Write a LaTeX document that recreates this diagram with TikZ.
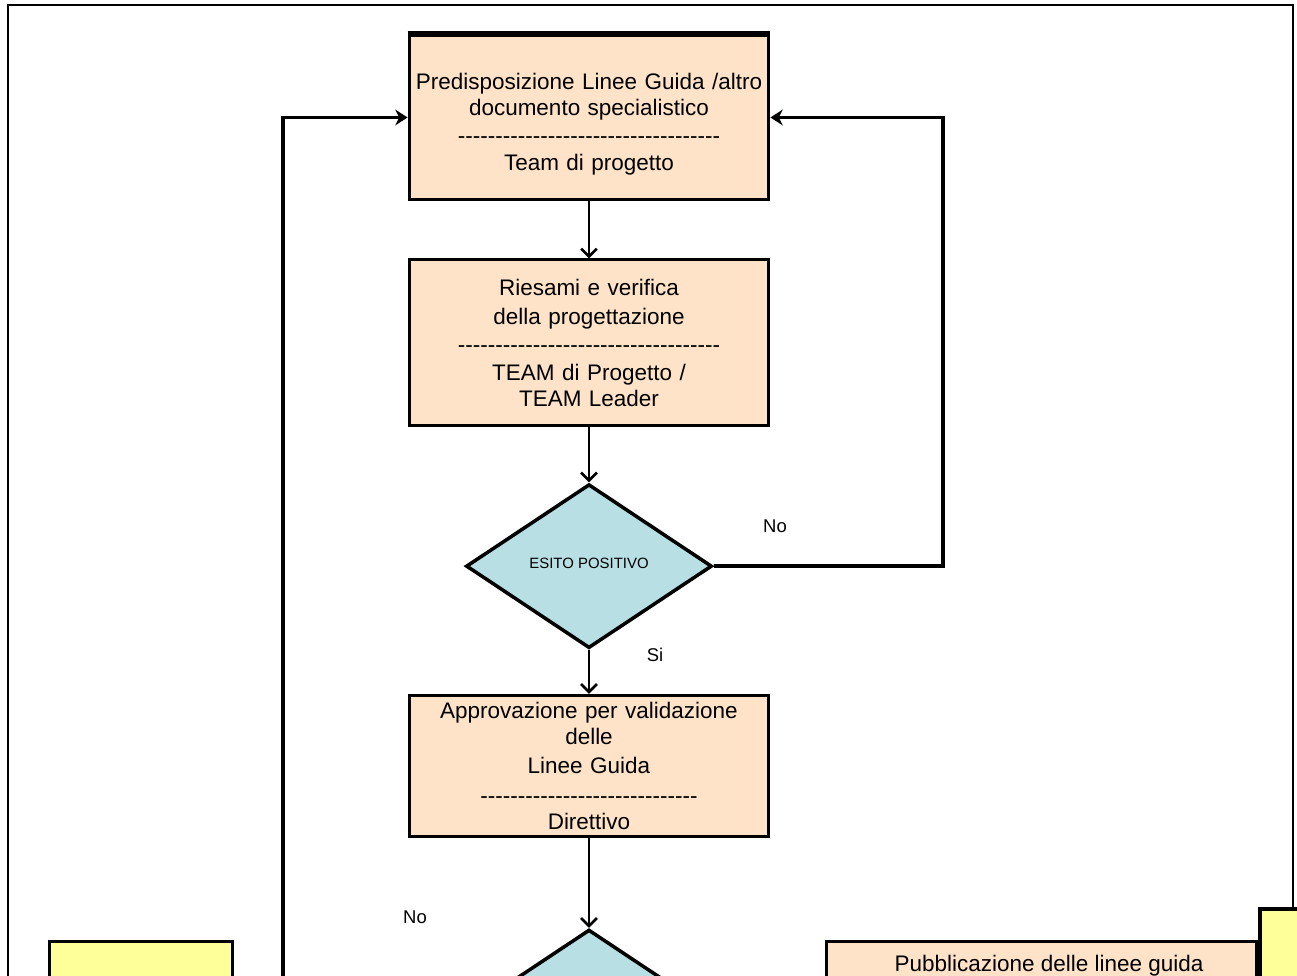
\documentclass[tikz,border=0pt]{standalone}
\usepackage{fontspec}
\newfontfamily\lsans{Liberation Sans}
\usepackage{xcolor}
\usetikzlibrary{arrows.meta,calc,positioning,shapes.geometric}
\definecolor{peach}{RGB}{255,227,200}
\definecolor{paleblue}{RGB}{184,223,227}
\definecolor{paleyellow}{RGB}{255,255,153}
\newcommand\hyph[1]{\foreach\k in {1,...,#1}{-}}

\begin{document}
\begin{tikzpicture}[x=0.02cm,y=-0.02cm,
  box/.style={draw,line width=1.7pt,fill=#1,align=center,inner sep=2pt,
    font=\lsans\fontsize{12.8}{14.8}\selectfont,minimum width=7.2cm,text width=7cm},
  dia/.style={draw,diamond,line width=2pt,fill=paleblue,inner sep=0pt,
    minimum width=4.92cm,minimum height=3.28cm,font=\lsans\fontsize{8.5}{10}\selectfont},
  lbl/.style={font=\lsans\fontsize{10.5}{12}\selectfont},
  arr/.style={-{Straight Barb[length=4.5pt,width=9pt]},line width=1.5pt},
  back/.style={-{Stealth[length=7pt,width=9pt]},line width=#1}]
  \useasboundingbox (0,0) rectangle (1297,976);
  \clip (0,0) rectangle (1297,976);
  % page frame
  \draw[line width=0.8pt] (8,1000) |- (1293,5) -- (1293,1000);
  \node[box=peach,minimum height=3.3cm] (A) at (589,117.5)
    {\rule{0pt}{17pt}Predisposizione Linee Guida /altro\\documento specialistico\\[1pt]\hyph{35}\\[1pt]Team di progetto};
  \draw[line width=3.4pt] (A.north west) -- (A.north east);
  \node[box=peach,minimum height=3.32cm,below=1.14cm of A] (B)
    {Riesami e verifica\\[2pt]della progettazione\\[1pt]\hyph{35}\\[1pt]TEAM di Progetto /\\TEAM Leader};
  \node[dia,below=1.10cm of B] (D) {\raisebox{0.12cm}{ESITO POSITIVO}};
  \node[box=peach,minimum height=2.82cm,below=0.88cm of D] (C)
    {Approvazione per validazione\\delle\\[2pt]Linee Guida\\[2pt]\hyph{29}\\Direttivo};
  \node[dia,below=1.80cm of C] (E) {};
  % cut boxes at the bottom
  \node[draw,line width=1.7pt,fill=paleyellow,anchor=north,minimum width=3.68cm,minimum height=3cm] (Y1) at (141,940) {};
  \node[draw,line width=1.7pt,fill=peach,anchor=north,minimum width=8.62cm,minimum height=3cm] (P) at (1041.5,940) {};
  \node[font=\lsans\fontsize{12.8}{14.8}\selectfont] (Ptxt) at (1049,966) {Pubblicazione delle linee guida};
  \node[draw,line width=2.4pt,fill=paleyellow,anchor=north west,minimum width=2cm,minimum height=3cm] (Y2) at (1258,907) {};
  % connectors
  \draw[arr] (A) -- (B);
  \draw[arr] (B) -- (D);
  \draw[arr] (D) -- (C);
  \draw[arr] (C) -- (E);
  \coordinate (R) at (943,566);
  \draw[back=2.2pt] (D.east) -- (D.east -| R) |- (A.east);
  \coordinate (L) at (283,1000);
  \draw[back=2pt] (L) |- (A.west);
  % labels
  \node[lbl] (no1) at (775,526) {No};
  \node[lbl] (si) at (655,655) {Si};
  \node[lbl] (no2) at (415,917) {No};
\end{tikzpicture}
\end{document}
